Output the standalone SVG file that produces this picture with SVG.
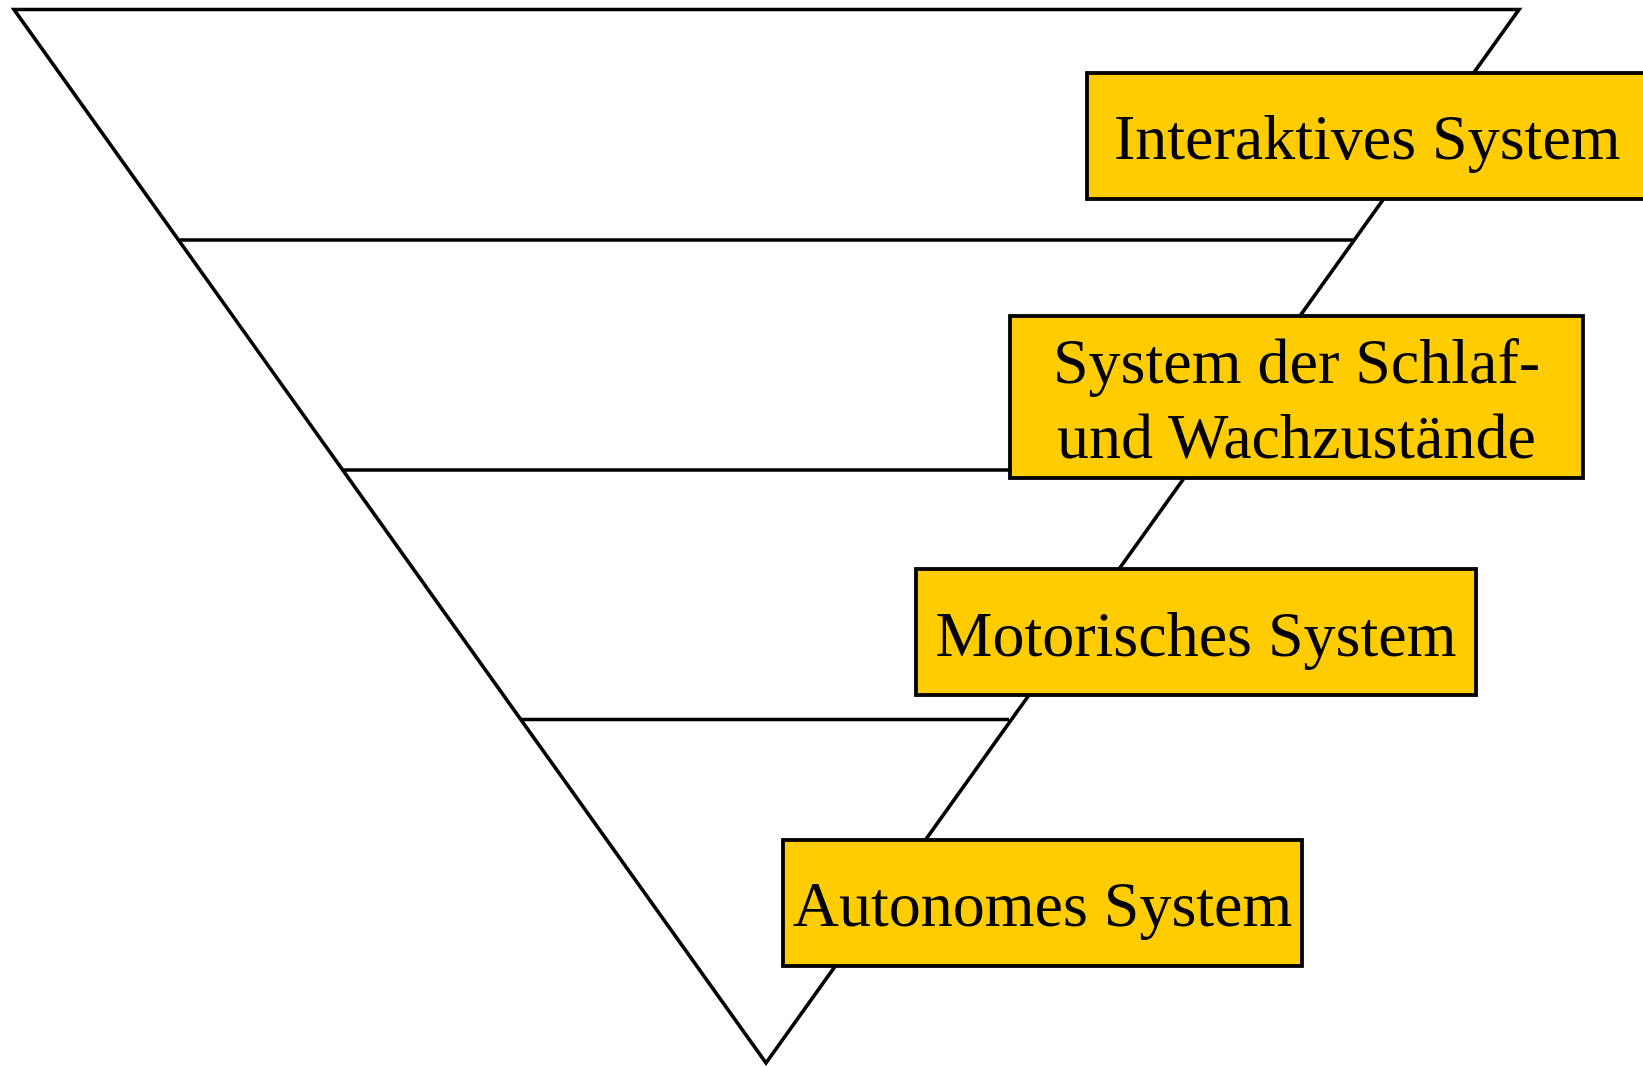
<svg xmlns="http://www.w3.org/2000/svg" width="1643" height="1067" viewBox="0 0 1643 1067">
<style>
.ln{stroke:#000;stroke-width:3.6;fill:none}
.box{fill:#FFCC00;stroke:#000;stroke-width:3.8}
.lbl{font-family:"Liberation Serif","Times New Roman",serif;font-size:64px;fill:#000}
</style>
<rect width="1643" height="1067" fill="#fff"/>
<g id="connectors">
<polygon class="ln" points="14,9.5 1519,9.5 766,1063"/>
<line class="ln" x1="180" y1="240" x2="1354" y2="240"/>
<line class="ln" x1="343" y1="470" x2="1190" y2="470"/>
<line class="ln" x1="521" y1="719.5" x2="1009" y2="719.5"/>
</g>
<g id="node-interaktiv">
<rect class="box" x="1087" y="73" width="560" height="126"/>
<text class="lbl" x="1114" y="159">Interaktives System</text>
</g>
<g id="node-schlaf">
<rect class="box" x="1010" y="316" width="573" height="162"/>
<text class="lbl" x="1296.5" y="383" text-anchor="middle">System der Schlaf-</text>
<text class="lbl" x="1296.5" y="458" text-anchor="middle">und Wachzustände</text>
</g>
<g id="node-motorisch">
<rect class="box" x="916" y="569" width="560" height="126"/>
<text class="lbl" x="1196" y="656" text-anchor="middle">Motorisches System</text>
</g>
<g id="node-autonom">
<rect class="box" x="783" y="840" width="519" height="126"/>
<text class="lbl" x="1042.5" y="926" text-anchor="middle">Autonomes System</text>
</g>
</svg>
